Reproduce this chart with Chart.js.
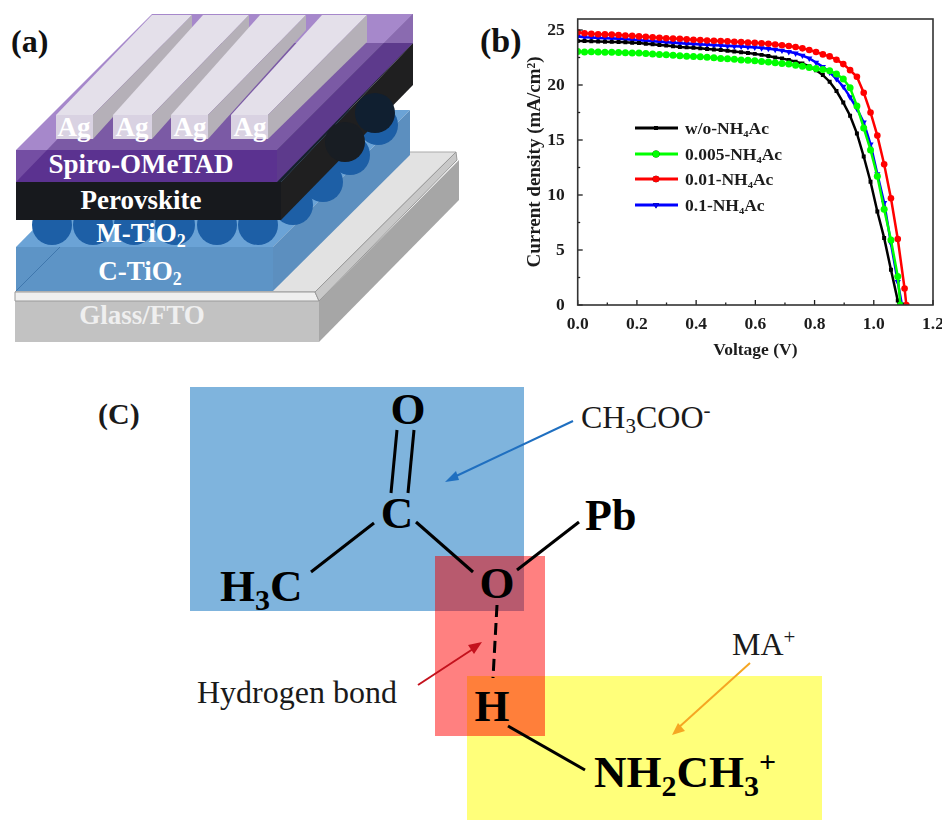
<!DOCTYPE html>
<html>
<head>
<meta charset="utf-8">
<title>Perovskite device, J-V curves and hydrogen bond scheme</title>
<script src="https://cdn.jsdelivr.net/npm/chart.js@4/dist/chart.umd.min.js"></script>
<style>
  html, body { margin: 0; padding: 0; background: #fff; }
  #page { position: relative; width: 942px; height: 820px; overflow: hidden; }
  #scheme { position: absolute; left: 0; top: 0; }
  #jv-wrap { position: absolute; left: 480px; top: 0; width: 462px; height: 365px; }
  svg text { font-family: "Liberation Serif", serif; }
</style>
</head>
<body>
<div id="page">
  <svg id="scheme" width="942" height="820" viewBox="0 0 942 820">
    <!-- (a) device stack -->
    <polygon points="15,301 319,301 319,342 15,342" fill="#c2c2c2"/>
    <polygon points="319,342 319,301 459,160 459,200" fill="#a6a6a6"/>
    <polygon points="15,292 315,292 456,152 150,152" fill="#e2e2e2" stroke="#aaa"/>
    <polygon points="15,292 315,292 319,301 15,301" fill="#efefef" stroke="#999"/>
    <polygon points="315,292 456,152 457,160 319,301" fill="#c8c8c8" stroke="#999"/>
    <polygon points="16,247 151,110 410,110 273,247" fill="#6ba3d6"/>
    <polygon points="273,291 273,247 410,110 410,155" fill="#5c8fbf"/>
    <polygon points="16,247 273,247 273,291 16,291" fill="#5d94c6"/>
    <line x1="16" y1="291" x2="60" y2="247" stroke="#3f77ad"/>
    <g fill="#1d5fa6">
      <circle cx="52" cy="225" r="20"/><circle cx="93" cy="225" r="20"/>
      <circle cx="134" cy="225" r="20"/><circle cx="175" cy="225" r="20"/>
      <circle cx="217" cy="225" r="20"/><circle cx="258" cy="225" r="20"/>
      <circle cx="293" cy="205" r="20"/><circle cx="323" cy="182" r="20"/>
      <circle cx="350" cy="155" r="20"/><circle cx="378" cy="125" r="20"/>
    </g>
    <polygon points="16,182 150,43 413,43 281,182" fill="#16202c"/>
    <polygon points="281,220 281,182 413,43 413,85" fill="#1f1f20"/>
    <polygon points="16,182 281,182 281,220 16,220" fill="#17191d"/>
    <circle cx="375" cy="113" r="20" fill="#101f30"/>
    <circle cx="345" cy="142" r="20" fill="#181d23"/>
    <polygon points="16,150 152,14 413,14 277,150" fill="#a688cb"/>
    <polygon points="47,150 150,43 384,43 277,150" fill="#7b5aa5"/>
    <polygon points="277,182 277,150 413,14 413,43" fill="#5d3a8c"/>
    <polygon points="384,43 413,14 413,43" fill="#8a6bb0"/>
    <polygon points="16,150 277,150 277,182 16,182" fill="#5b3290"/>
    <polygon points="16,182 16,150 47,150" fill="#7a55a8" opacity=".8"/>
    <!-- silver bars -->
    <g id="bars">
      <polygon points="56,115 152,15 192,15 93,115" fill="#e4e0ea"/>
      <polygon points="93,139 93,115 192,15 192,30" fill="#b5b0b8"/>
      <rect x="56" y="115" width="37" height="24" fill="#d9d2e2"/>
      <polygon points="113,115 203,15 249,15 152,115" fill="#e4e0ea"/>
      <polygon points="152,139 152,115 249,15 249,30" fill="#b5b0b8"/>
      <rect x="113" y="115" width="39" height="24" fill="#d9d2e2"/>
      <polygon points="171,115 260,15 306,15 208,115" fill="#e4e0ea"/>
      <polygon points="208,139 208,115 306,15 306,30" fill="#b5b0b8"/>
      <rect x="171" y="115" width="37" height="24" fill="#d9d2e2"/>
      <polygon points="231,115 322,15 367,15 268,115" fill="#e4e0ea"/>
      <polygon points="268,139 268,115 367,15 367,42" fill="#b5b0b8"/>
      <rect x="231" y="115" width="37" height="24" fill="#d9d2e2"/>
    </g>
    <g font-weight="bold" fill="#fff" font-size="27" text-anchor="middle">
      <text x="74" y="136">Ag</text><text x="132" y="136">Ag</text>
      <text x="190" y="136">Ag</text><text x="250" y="136">Ag</text>
      <text x="141" y="173">Spiro-OMeTAD</text>
      <text x="141" y="209">Perovskite</text>
      <text x="141" y="242">M-TiO<tspan font-size="18" dy="5">2</tspan></text>
      <text x="140" y="280">C-TiO<tspan font-size="18" dy="5">2</tspan></text>
      <text x="142" y="324" fill="#efefef">Glass/FTO</text>
    </g>
    <g font-weight="bold" fill="#111">
      <text x="11" y="52" font-size="32">(a)</text>
      <text x="480" y="52" font-size="34">(b)</text>
    </g>

    <!-- (c) bonding scheme -->
    <rect x="190" y="387" width="334" height="224" fill="#7fb4dd"/>
    <rect x="467" y="676" width="355" height="144" fill="#ffff7a"/>
    <rect x="435" y="556" width="110" height="180" fill="#ff8080"/>
    <rect x="435" y="556" width="89" height="55" fill="#b85a6e"/>
    <rect x="467" y="676" width="78" height="60" fill="#ff7f3a"/>
    <g stroke="#000" stroke-width="3" fill="none">
      <line x1="397" y1="430" x2="391" y2="493"/>
      <line x1="414" y1="430" x2="408" y2="493"/>
      <line x1="374" y1="523" x2="311" y2="572"/>
      <line x1="416" y1="522" x2="473" y2="572"/>
      <line x1="579" y1="522" x2="517" y2="570"/>
      <line x1="497" y1="605" x2="493" y2="678" stroke-dasharray="12 6"/>
      <line x1="508" y1="726" x2="585" y2="770"/>
    </g>
    <g stroke-width="2" fill="none">
      <line x1="573" y1="421" x2="452" y2="478" stroke="#1f6fc0"/>
      <line x1="418" y1="685" x2="476" y2="647" stroke="#c4121d"/>
      <line x1="750" y1="663" x2="677" y2="729" stroke="#f5a623"/>
    </g>
    <polygon points="445,482 456,471 459,480" fill="#1f6fc0"/>
    <polygon points="482,642 474,654 468,645" fill="#c4121d"/>
    <polygon points="672,735 678,723 685,731" fill="#f5a623"/>
    <g font-weight="bold" fill="#000" font-size="45">
      <text x="408" y="424" text-anchor="middle">O</text>
      <text x="397" y="528" text-anchor="middle">C</text>
      <text x="497" y="598" text-anchor="middle">O</text>
      <text x="220" y="601">H<tspan font-size="30" dy="9">3</tspan><tspan dy="-9">C</tspan></text>
      <text x="585" y="530" font-size="44">Pb</text>
      <text x="492" y="721" text-anchor="middle">H</text>
      <text x="594" y="787">NH<tspan font-size="30" dy="9">2</tspan><tspan dy="-9">CH</tspan><tspan font-size="30" dy="9">3</tspan><tspan font-size="30" dy="-24">+</tspan></text>
    </g>
    <text x="98" y="424" font-size="30" font-weight="bold" fill="#1a1a1a">(C)</text>
    <g fill="#1a1a1a" font-size="32">
      <text x="581" y="428">CH<tspan font-size="21" dy="5">3</tspan><tspan dy="-5">COO</tspan><tspan font-size="21" dy="-11">-</tspan></text>
      <text x="197" y="703">Hydrogen bond</text>
      <text x="732" y="655">MA<tspan font-size="21" dy="-11">+</tspan></text>
    </g>
  </svg>
  <div id="jv-wrap"><canvas id="jv"></canvas></div>
</div>

<script>
// V grid
const voltage = [0, 0.023, 0.046, 0.069, 0.092, 0.115, 0.138, 0.161, 0.184, 0.207, 0.23, 0.253, 0.276, 0.299, 0.322,
  0.345, 0.368, 0.391, 0.414, 0.437, 0.46, 0.483, 0.506, 0.529, 0.552, 0.575, 0.598, 0.621, 0.644, 0.667, 0.69, 0.713,
  0.736, 0.759, 0.782, 0.805, 0.828, 0.851, 0.874, 0.897, 0.92, 0.943, 0.966, 0.989, 1.012, 1.035, 1.058, 1.081, 1.104];

const seriesNames = ["w/o-NH₄Ac", "0.005-NH₄Ac", "0.01-NH₄Ac", "0.1-NH₄Ac"];
const seriesColors = ["#000000", "#00ff00", "#ff0000", "#0000ff"];

const jBlack = [24.0, 24.0, 23.97, 23.95, 23.93, 23.92, 23.9, 23.88, 23.85, 23.82, 23.75, 23.7, 23.63, 23.58, 23.52,
  23.46, 23.42, 23.38, 23.33, 23.28, 23.22, 23.18, 23.12, 23.05, 22.97, 22.9, 22.83, 22.74, 22.63, 22.5, 22.42, 22.28,
  22.12, 21.95, 21.7, 21.35, 20.9, 20.3, 19.45, 18.4, 17.2, 15.6, 13.5, 11.2, 8.5, 6.1, 3.2, 0.4];
const jGreen = [23.05, 23.0, 23.03, 23.0, 22.98, 22.97, 22.95, 22.93, 22.92, 22.9, 22.86, 22.82, 22.78, 22.75, 22.7,
  22.67, 22.62, 22.6, 22.56, 22.52, 22.47, 22.42, 22.38, 22.33, 22.28, 22.24, 22.2, 22.14, 22.08, 22.02, 21.96, 21.9,
  21.8, 21.7, 21.6, 21.5, 21.42, 21.3, 21.0, 20.55, 19.75, 18.1, 16.1, 14.1, 11.7, 8.7, 5.9, 2.6];
const jRed = [24.8, 24.7, 24.65, 24.62, 24.6, 24.58, 24.55, 24.5, 24.47, 24.42, 24.38, 24.33, 24.3, 24.25, 24.22,
  24.2, 24.15, 24.12, 24.08, 24.05, 24.02, 24.0, 23.97, 23.93, 23.9, 23.87, 23.83, 23.8, 23.75, 23.68, 23.62, 23.55,
  23.45, 23.33, 23.18, 23.0, 22.78, 22.6, 22.3, 21.9, 21.35, 20.75, 19.3, 17.5, 15.4, 12.8, 9.7, 6.0, 1.5];
const jBlue = [24.4, 24.35, 24.32, 24.28, 24.25, 24.23, 24.2, 24.17, 24.12, 24.07, 24.03, 23.98, 23.93, 23.88, 23.84,
  23.8, 23.76, 23.72, 23.68, 23.65, 23.62, 23.58, 23.55, 23.52, 23.5, 23.46, 23.42, 23.36, 23.3, 23.22, 23.14, 23.02,
  22.88, 22.68, 22.42, 22.05, 21.65, 21.15, 20.55, 19.85, 18.9, 17.85, 16.6, 14.6, 11.9, 9.3, 5.6, 2.1];

// where each curve hits the x axis
const vocValues = [1.085, 1.09, 1.11, 1.095];

const ink = "#1c1c1c";
const serifBold = (size) => ({ family: "'Liberation Serif', serif", weight: "bold", size: size });

function toPoints(values, voc) {
  const pts = values.map((j, i) => ({ x: voltage[i], y: j }));
  pts.push({ x: voc, y: 0 });
  return pts;
}

function makeSeries(idx, values, marker, drawOrder, radius, rotation) {
  return {
    label: seriesNames[idx],
    data: toPoints(values, vocValues[idx]),
    borderColor: seriesColors[idx],
    backgroundColor: seriesColors[idx],
    borderWidth: 2.5,
    pointStyle: marker,
    pointRadius: radius,
    pointRotation: rotation || 0,
    pointBorderWidth: 0,
    order: drawOrder,
  };
}

// ticks point inward and the frame is closed, so this one is drawn by hand
const framePlugin = {
  id: "frame",
  afterDatasetsDraw(chart) {
    const { ctx, chartArea: a, scales } = chart;
    ctx.save();
    ctx.strokeStyle = ink;
    ctx.lineWidth = 1.3;
    scales.x.ticks.forEach((t) => {
      const px = scales.x.getPixelForValue(t.value);
      const len = t.label ? 5 : 2.5;
      ctx.beginPath(); ctx.moveTo(px, a.bottom); ctx.lineTo(px, a.bottom - len); ctx.stroke();
    });
    scales.y.ticks.forEach((t) => {
      const py = scales.y.getPixelForValue(t.value);
      const len = t.label ? 5 : 2.5;
      ctx.beginPath(); ctx.moveTo(a.left, py); ctx.lineTo(a.left + len, py); ctx.stroke();
    });
    ctx.strokeStyle = "#333";
    ctx.lineWidth = 1.6;
    ctx.strokeRect(a.left, a.top, a.right - a.left, a.bottom - a.top);
    ctx.restore();
  },
};

// legend sits inside the plot
const insideLegend = {
  id: "insideLegend",
  afterDraw(chart) {
    const { ctx } = chart;
    const rowY = [128, 154, 179, 205];
    chart.data.datasets.forEach((ds, i) => {
      const y = rowY[i];
      ctx.save();
      ctx.strokeStyle = ds.borderColor;
      ctx.lineWidth = 2.8;
      ctx.beginPath(); ctx.moveTo(155, y); ctx.lineTo(198, y); ctx.stroke();
      Chart.helpers.drawPoint(ctx, { pointStyle: ds.pointStyle, radius: ds.pointRadius, rotation: ds.pointRotation, borderWidth: 0 }, 176, y);
      ctx.fillStyle = ds.borderColor;
      ctx.fill();
      ctx.fillStyle = ink;
      ctx.font = "bold 17.5px 'Liberation Serif', serif";
      ctx.textBaseline = "middle";
      ctx.fillText(ds.label, 205, y + 1);
      ctx.restore();
    });
  },
};

const ctx = document.getElementById("jv").getContext("2d");
new Chart(ctx, {
  type: "line",
  data: {
    datasets: [
      makeSeries(0, jBlack, "rect", 3, 2.8),
      makeSeries(1, jGreen, "circle", 2, 3.5),
      makeSeries(2, jRed, "circle", 1, 3.3),
      makeSeries(3, jBlue, "triangle", 4, 3.6, 180),
    ],
  },
  options: {
    responsive: true,
    maintainAspectRatio: false,
    animation: false,
    layout: { padding: { top: 19, right: 9, left: 40 } },
    plugins: { legend: { display: false }, tooltip: { enabled: false } },
    scales: {
      x: {
        type: "linear",
        min: 0,
        max: 1.2,
        afterFit(s) { s.height = 60; s.paddingRight = 0; },
        grid: { display: false },
        border: { display: false },
        title: { display: true, text: "Voltage (V)", color: ink, font: serifBold(17.5), padding: { top: 6 } },
        ticks: {
          stepSize: 0.1,
          autoSkip: false,
          maxRotation: 0,
          color: ink,
          font: serifBold(17.5),
          padding: 1,
          callback: (v) => (Math.round(v * 10) % 2 === 0 ? v.toFixed(1) : ""),
        },
      },
      y: {
        min: 0,
        max: 26,
        afterFit(s) { s.width = 57.7; },
        afterBuildTicks(s) {
          const list = [];
          for (let v = 0; v <= 25; v += 2.5) list.push({ value: v });
          s.ticks = list;
        },
        grid: { display: false },
        border: { display: false },
        title: { display: true, text: "Current density (mA/cm²)", color: ink, font: serifBold(19), padding: { bottom: 2 } },
        ticks: {
          autoSkip: false,
          color: ink,
          font: serifBold(17.5),
          padding: 5,
          callback: (v) => (v % 5 === 0 ? String(v) : ""),
        },
      },
    },
  },
  plugins: [framePlugin, insideLegend],
});
</script>
</body>
</html>
